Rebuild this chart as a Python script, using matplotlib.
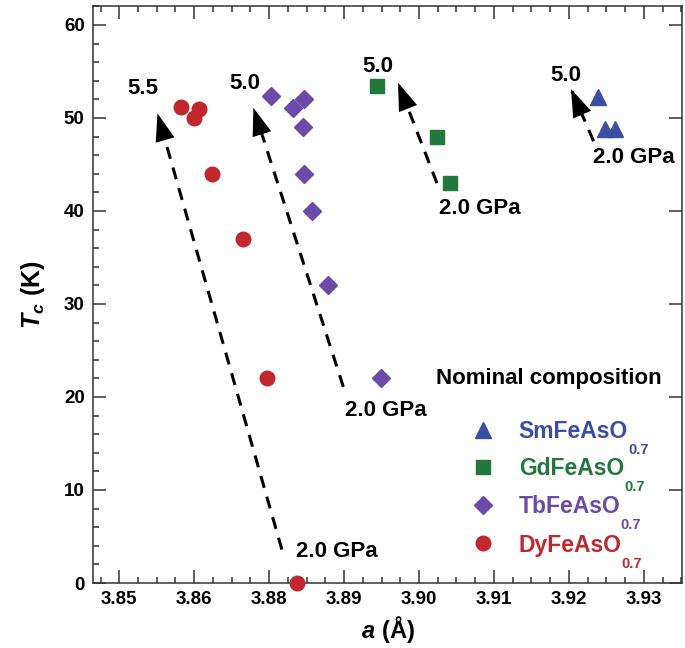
import matplotlib
matplotlib.use("Agg")
import matplotlib.pyplot as plt
from matplotlib.ticker import MultipleLocator, FixedLocator

plt.rcParams["font.family"] = ["Liberation Sans", "DejaVu Sans"]
plt.rcParams["font.weight"] = "bold"
plt.rcParams["mathtext.fontset"] = "custom"
plt.rcParams["mathtext.rm"] = "Liberation Sans:bold"
plt.rcParams["mathtext.it"] = "Liberation Sans:italic:bold"
plt.rcParams["mathtext.bf"] = "Liberation Sans:bold"

# Data: lattice constant a (Å) vs Tc (K) under pressure
sm_a = [3.9239, 3.9248, 3.9261]
sm_tc = [52.3, 48.8, 48.8]
gd_a = [3.8944, 3.9024, 3.9041]
gd_tc = [53.4, 48.0, 43.0]
tb_a = [3.8803, 3.8847, 3.8832, 3.8845, 3.8847, 3.8857, 3.8879, 3.8949]
tb_tc = [52.4, 52.0, 51.1, 49.0, 44.0, 40.0, 32.0, 22.0]
dy_a = [3.8683, 3.8707, 3.8700, 3.8724, 3.8765, 3.8797, 3.8837]
dy_tc = [51.2, 51.0, 50.0, 44.0, 37.0, 22.0, 0.0]

names = ["SmFeAsO", "GdFeAsO", "TbFeAsO", "DyFeAsO"]
colors = ["#3a4ea5", "#217a3c", "#6a4ba9", "#c1272d"]
markers = ["^", "s", "D", "o"]
msizes = [11, 10, 9.5, 10.5]

# pressure arrows: (a_start, tc_start) -> (a_end, tc_end)
arrow_start = [(3.8817, 3.6), (3.8899, 21.1), (3.9024, 43.0), (3.9233, 47.5)]
arrow_end = [(3.8651, 50.5), (3.8779, 51.1), (3.8972, 53.8), (3.9203, 53.1)]
high_labels = ["5.5", "5.0", "5.0", "5.0"]
high_pos = [(3.8632, 53.2), (3.8767, 53.7), (3.8945, 55.5), (3.9196, 54.6)]
low_pos = [(3.8891, 3.4), (3.8956, 18.6), (3.9081, 40.3), (3.9287, 45.7)]

xtick_vals = [3.86, 3.87, 3.88, 3.89, 3.90, 3.91, 3.92, 3.93]
xtick_labels = ["3.85", "3.86", "3.88", "3.89", "3.90", "3.91", "3.92", "3.93"]
ytick_vals = [0, 10, 20, 30, 40, 50, 60]

fig = plt.figure(figsize=(6.85, 6.48), dpi=100)
ax = fig.add_axes([0.1358, 0.1003, 0.8598, 0.8909])

for a, tc, c, m, s in zip([sm_a, gd_a, tb_a, dy_a], [sm_tc, gd_tc, tb_tc, dy_tc],
                          colors, markers, msizes):
    ax.plot(a, tc, linestyle="none", marker=m, ms=s, color=c, mec=c, clip_on=False, zorder=3)

for (x0, y0), (x1, y1) in zip(arrow_start, arrow_end):
    # dashed shaft stops a bit short of the tip, the solid head covers the rest
    xm = x1 + 0.5 * (x0 - x1) * 0.08
    ym = y1 + 0.5 * (y0 - y1) * 0.08
    ax.plot([x0, xm], [y0, ym], color="black", lw=2.2, ls=(0, (4, 3)),
            dash_capstyle="butt", zorder=2)
    ax.annotate("", xy=(x1, y1), xytext=(x0, y0),
                arrowprops=dict(arrowstyle="-|>,head_length=1.0,head_width=0.35",
                                mutation_scale=20, lw=0, fc="black", ec="none",
                                shrinkA=0, shrinkB=0), zorder=2)

for txt, (x, y) in zip(high_labels, high_pos):
    ax.text(x, y, txt, fontsize=16, ha="center", va="center")
for x, y in low_pos:
    ax.text(x, y, "2.0 GPa", fontsize=16, ha="center", va="center")

# legend drawn by hand
ax.text(0.774, 0.355, "Nominal composition", transform=ax.transAxes,
        fontsize=16, ha="center", va="center")
rows_y = [0.265, 0.201, 0.135, 0.069]
for name, c, m, s, ry in zip(names, colors, markers, msizes, rows_y):
    ax.plot([0.662], [ry], transform=ax.transAxes, marker=m, ms=s, color=c,
            linestyle="none", clip_on=False)
    t = ax.annotate(name, xy=(0.723, ry), xycoords="axes fraction",
                    xytext=(0, -6), textcoords="offset points",
                    fontsize=16.5, color=c, ha="left", va="baseline")
    ax.annotate("0.7", xy=(1, 0), xycoords=t, xytext=(0, 0),
                textcoords="offset points", fontsize=10.5, color=c,
                ha="left", va="top")

ax.set_xlim(3.8565, 3.9351)
ax.set_ylim(0, 62.07)
ax.xaxis.set_major_locator(FixedLocator(xtick_vals))
ax.set_xticklabels(xtick_labels)
ax.xaxis.set_minor_locator(MultipleLocator(0.0025))
ax.set_yticks(ytick_vals)
ax.yaxis.set_minor_locator(MultipleLocator(2))

ax.tick_params(which="both", direction="in", top=True, right=True,
               labelsize=13.5, colors="#333333", labelcolor="black", width=1.1)
ax.tick_params(which="major", length=9.5, pad=6)
ax.tick_params(which="minor", length=4)
ax.tick_params(axis="y", which="minor", right=False)
for sp in ax.spines.values():
    sp.set_linewidth(1.1)
    sp.set_color("#333333")

ax.set_xlabel(r"$a\ \mathrm{(Å)}$", fontsize=17, labelpad=4)
ax.set_ylabel(r"$T_c\ \mathrm{(K)}$", fontsize=18, labelpad=12)

fig.savefig("out.png", dpi=100)
